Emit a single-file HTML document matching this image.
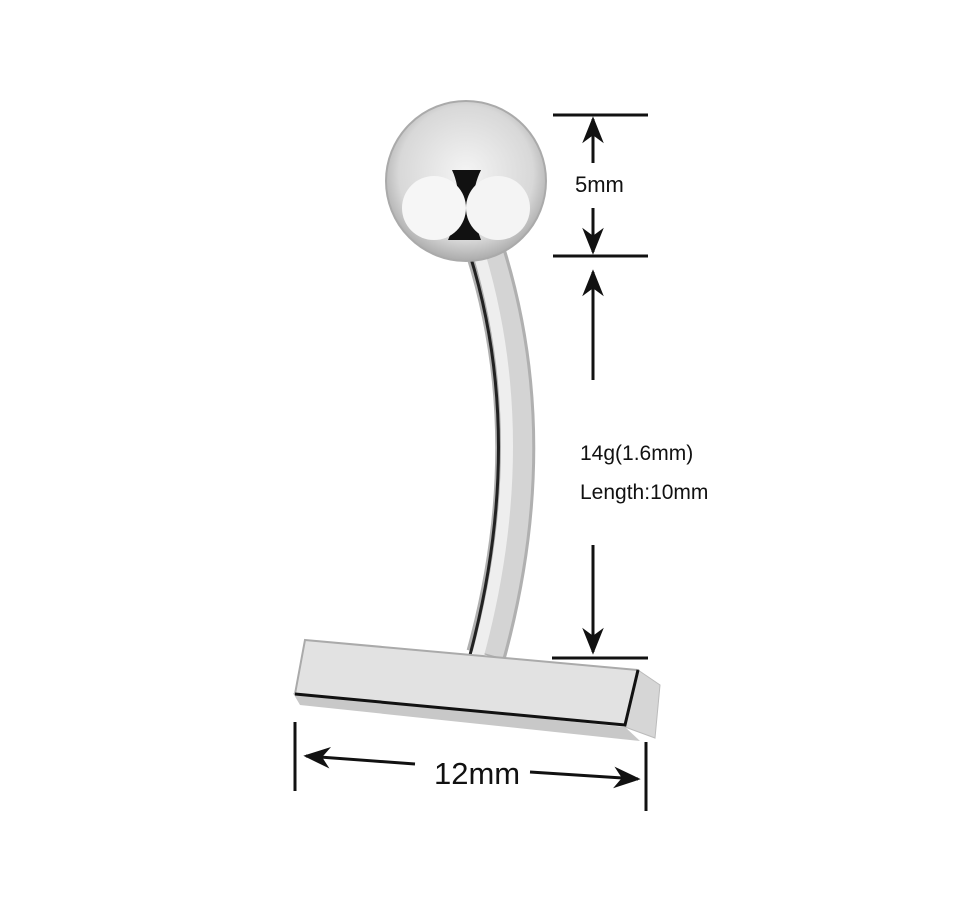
<!DOCTYPE html>
<html><head><style>body{margin:0;background:#fff}svg{display:block}</style></head><body>
<svg width="960" height="902" viewBox="0 0 960 902" xmlns="http://www.w3.org/2000/svg" font-family="Liberation Sans, sans-serif">
<defs>
<radialGradient id="ball" cx="0.5" cy="0.45" r="0.6">
<stop offset="0" stop-color="#f4f4f4"/><stop offset="0.7" stop-color="#d8d8d8"/><stop offset="1" stop-color="#9a9a9a"/>
</radialGradient>
<marker id="ah" viewBox="0 0 10 10" refX="9" refY="5" markerWidth="9" markerHeight="9" orient="auto-start-reverse"><path d="M0,1 L10,5 L0,9 L3,5z" fill="#111"/></marker>
</defs>
<path d="M485,250 Q545,440 486,655" stroke="#b0b0b0" stroke-width="40" fill="none"/>
<path d="M490,250 Q550,440 491,655" stroke="#d4d4d4" stroke-width="24" fill="none"/>
<path d="M478,250 Q536,440 478,655" stroke="#eeeeee" stroke-width="12" fill="none"/>
<path d="M470,255 Q527,440 470,655" stroke="#222" stroke-width="3" fill="none"/>
<circle cx="466" cy="181" r="80" fill="url(#ball)" stroke="#aaa" stroke-width="2"/>
<path d="M452,170 L481,170 Q466,200 481,240 L448,240 Q466,200 452,170z" fill="#111"/>
<circle cx="434" cy="208" r="32" fill="#f6f6f6"/>
<circle cx="498" cy="208" r="32" fill="#f4f4f4"/>
<polygon points="293,693 625,727 640,741 300,705" fill="#c8c8c8"/>
<polygon points="638,670 660,685 655,738 625,727" fill="#d6d6d6" stroke="#bbb"/>
<polygon points="305,640 638,670 625,725 295,694" fill="#e2e2e2" stroke="#aaa" stroke-width="2"/>
<path d="M295,694 L625,725 L638,670" stroke="#111" stroke-width="3" fill="none"/>
<g stroke="#111" stroke-width="3" fill="none">
<line x1="553" y1="115" x2="648" y2="115"/>
<line x1="553" y1="256" x2="648" y2="256"/>
<line x1="552" y1="658" x2="648" y2="658"/>
<line x1="593" y1="163" x2="593" y2="119" marker-end="url(#ah)"/>
<line x1="593" y1="208" x2="593" y2="252" marker-end="url(#ah)"/>
<line x1="593" y1="380" x2="593" y2="272" marker-end="url(#ah)"/>
<line x1="593" y1="545" x2="593" y2="652" marker-end="url(#ah)"/>
<line x1="295" y1="722" x2="295" y2="791"/>
<line x1="646" y1="742" x2="646" y2="811"/>
<line x1="415" y1="764" x2="306" y2="756" marker-end="url(#ah)"/>
<line x1="530" y1="772" x2="638" y2="779" marker-end="url(#ah)"/>
</g>
<g fill="#111">
<text x="575" y="192" font-size="22">5mm</text>
<text x="580" y="460" font-size="21">14g(1.6mm)</text>
<text x="580" y="499" font-size="21">Length:10mm</text>
<text x="434" y="784" font-size="31">12mm</text>
</g>
</svg>
</body></html>
